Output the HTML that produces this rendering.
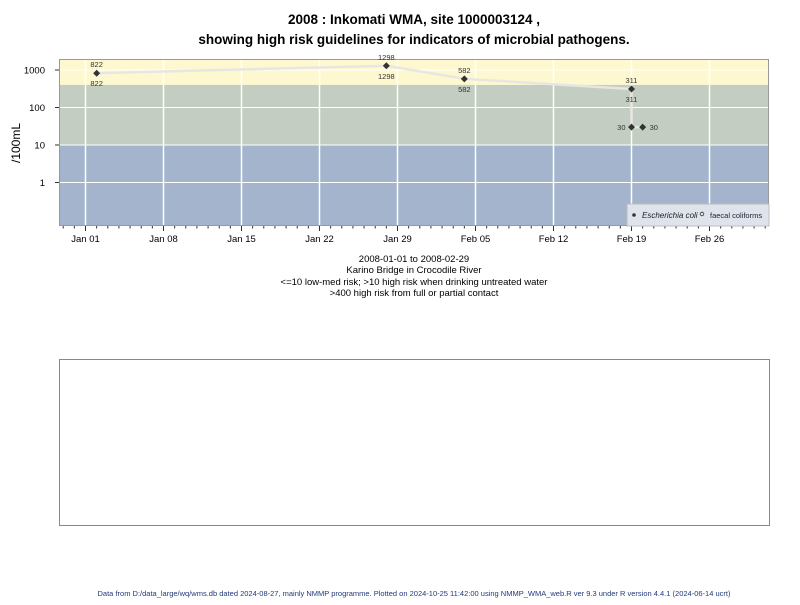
<!DOCTYPE html>
<html><head><meta charset="utf-8"><style>
body{margin:0;background:#fff;font-family:"Liberation Sans",sans-serif;}
svg text{font-family:"Liberation Sans",sans-serif;}
</style></head><body>
<svg width="800" height="600" xmlns="http://www.w3.org/2000/svg" id="chart">
<text x="414" y="24" font-size="13.5" font-weight="bold" text-anchor="middle">2008 : Inkomati WMA, site 1000003124 ,</text>
<text x="414" y="44" font-size="13.5" font-weight="bold" text-anchor="middle">showing high risk guidelines for indicators of microbial pathogens.</text>
<g id="plot"></g>
<text transform="translate(20,143) rotate(-90)" font-size="12" text-anchor="middle">/100mL</text>
<g>
<rect x="627" y="204" width="142" height="22" fill="#dfe4ec" stroke="#bbb"/>
<circle cx="634" cy="215" r="1.8" fill="#333"/>
<text x="642" y="218" font-size="8" font-style="italic" fill="#222">Escherichia coli</text>
<circle cx="702" cy="214" r="1.8" fill="none" stroke="#333" stroke-width="0.8"/>
<text x="710" y="218" font-size="7.5" fill="#223">faecal coliforms</text>
</g>
<g font-size="9.5" text-anchor="middle">
<text x="414" y="262">2008-01-01 to 2008-02-29</text>
<text x="414" y="273">Karino Bridge in Crocodile River</text>
<text x="414" y="285">&lt;=10 low-med risk; &gt;10 high risk when drinking untreated water</text>
<text x="414" y="296">&gt;400 high risk from full or partial contact</text>
</g>
<rect x="59.5" y="359.5" width="710" height="166" fill="none" stroke="#888"/>
<text x="414" y="596" font-size="7.5" fill="#223a7a" text-anchor="middle">Data from D:/data_large/wq/wms.db dated 2024-08-27, mainly NMMP programme. Plotted on 2024-10-25 11:42:00 using NMMP_WMA_web.R ver 9.3 under R version 4.4.1 (2024-06-14 ucrt)</text>
</svg>
<script>
const dayOffsets=[1,27,34,49,49,50];
const values=[822,1298,582,311,30,30];
const labelPos=['both','both','both','both','left','right'];
const yTicks=[1,10,100,1000];
const xTickLabels=['Jan 01','Jan 08','Jan 15','Jan 22','Jan 29','Feb 05','Feb 12','Feb 19','Feb 26'];
const xTickDays=[0,7,14,21,28,35,42,49,56];
const bandLimits=[10,400];

const L=59,R=769,T=59,B=226;
const x=d=>85.5+d*78/7;
const y=v=>182.5-37.5*Math.log10(v);
const NS='http://www.w3.org/2000/svg';
const g=document.getElementById('plot');
function mk(t,a,p){const e=document.createElementNS(NS,t);for(const k in a)e.setAttribute(k,a[k]);(p||g).appendChild(e);return e;}
// bands
let e;
e=mk('rect',{x:L,y:T,width:R-L,height:y(bandLimits[1])-T,fill:'#fdf8cf'});


e=mk('rect',{x:L,y:y(bandLimits[1]),width:R-L,height:y(bandLimits[0])-y(bandLimits[1]),fill:'#c3cdc1'});


e=mk('rect',{x:L,y:y(bandLimits[0]),width:R-L,height:B-y(bandLimits[0]),fill:'#a3b4cc'});


// grid
yTicks.forEach(v=>{
 e=mk('line',{x1:L,x2:R,y1:y(v),y2:y(v),stroke:'#fff','stroke-width':1});
 
 
 e=mk('line',{x1:L-4,x2:L,y1:y(v),y2:y(v),stroke:'#333'});
 
 
 e=mk('text',{x:L-14,y:y(v)+3.5,'font-size':9.5,'text-anchor':'end'});e.textContent=v;
 
 
});
xTickDays.forEach((d,i)=>{
 e=mk('line',{x1:x(d),x2:x(d),y1:T,y2:B,stroke:'#fff','stroke-width':1.5});
 
 
 e=mk('line',{x1:x(d),x2:x(d),y1:B,y2:B+5,stroke:'#333'});
 
 
 e=mk('text',{x:x(d),y:B+16,'font-size':9.5,'text-anchor':'middle'});e.textContent=xTickLabels[i];
 
 
});
for(let d=-2;d<=61;d++){if(x(d)<L||x(d)>R)continue;
 e=mk('line',{x1:x(d),x2:x(d),y1:B,y2:B+2.5,stroke:'#333'});
 
 }
// frame
e=mk('rect',{x:L+0.5,y:T+0.5,width:R-L-1,height:B-T-1,fill:'none',stroke:'#999'});


// line
const pts=dayOffsets.map((d,i)=>x(d)+','+y(values[i])).join(' ');
e=mk('polyline',{points:pts,fill:'none',stroke:'#e8e6e2','stroke-width':2.5});


// points
dayOffsets.forEach((d,i)=>{
 const cx=x(d),cy=y(values[i]);
 e=mk('polygon',{points:`${cx},${cy-3.5} ${cx+3.5},${cy} ${cx},${cy+3.5} ${cx-3.5},${cy}`,fill:'#333'});
 
 
 const p=labelPos[i];
 if(p==='both'){
  e=mk('text',{x:cx,y:cy-6,'font-size':7.5,'text-anchor':'middle',fill:'#333'});e.textContent=values[i];
  
  
  e=mk('text',{x:cx,y:cy+13,'font-size':7.5,'text-anchor':'middle',fill:'#333'});e.textContent=values[i];
  
  
 }else{
  e=mk('text',{x:p==='left'?cx-6:cx+7,y:cy+3,'font-size':7.5,'text-anchor':p==='left'?'end':'start',fill:'#333'});e.textContent=values[i];
  
  
 }
});
</script>
</body></html>
